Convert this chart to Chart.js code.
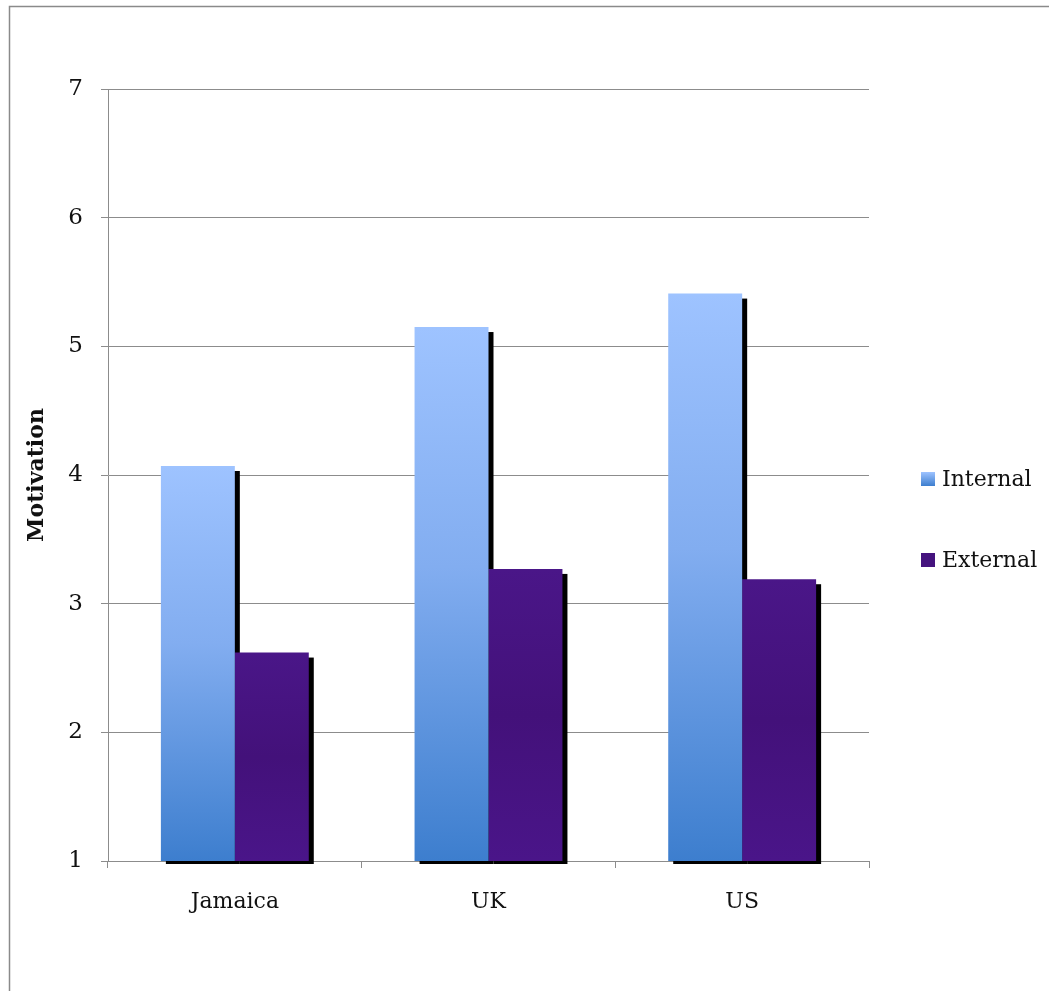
<!DOCTYPE html>
<html>
<head>
<meta charset="utf-8">
<script src="https://cdn.jsdelivr.net/npm/chart.js@4.4.0/dist/chart.umd.min.js"></script>
<style>
  html, body { margin: 0; padding: 0; background: #fff; }
  #wrap { width: 1049px; height: 991px; position: relative; }
</style>
</head>
<body>
<div id="wrap"><canvas id="myChart" width="1049" height="991"></canvas></div>
<script>
const categories = ['Jamaica', 'UK', 'US'];
const internalValues = [4.07, 5.15, 5.41];
const externalValues = [2.62, 3.27, 3.19];
const seriesNames = ['Internal', 'External'];
const yMin = 1;
const yMax = 7;

const serif = '"DejaVu Serif", serif';
const gridGray = '#8c8c8c';

// vertical gradient over each bar, from its top down to the axis floor
function barGradient(context, values, stops, fallback) {
    const chart = context.chart;
    const y = chart.scales.y;
    if (!chart.chartArea || !y || context.dataIndex === undefined) return fallback;
    const top = y.getPixelForValue(values[context.dataIndex]);
    const bottom = y.getPixelForValue(yMin);
    if (!isFinite(top) || !isFinite(bottom) || top === bottom) return fallback;
    const g = chart.ctx.createLinearGradient(0, top, 0, bottom);
    stops.forEach(s => g.addColorStop(s[0], s[1]));
    return g;
}

const internalStops = [[0, '#9ec3ff'], [0.45, '#82adf0'], [1, '#3d7ece']];
const externalStops = [[0, '#4a1688'], [0.5, '#43117a'], [1, '#4a1589']];

const ctx = document.getElementById('myChart').getContext('2d');

const data = {
    labels: categories,
    datasets: [{
        label: seriesNames[0],
        data: internalValues,
        backgroundColor: c => barGradient(c, internalValues, internalStops, '#7aa8ee'),
        borderWidth: 0
    }, {
        label: seriesNames[1],
        data: externalValues,
        backgroundColor: c => barGradient(c, externalValues, externalStops, '#48147f'),
        borderWidth: 0
    }]
};

const config = {
    type: 'bar',
    data: data,
    options: {
        responsive: false,
        animation: false,
        layout: {
            padding: { left: 10, right: 180, top: 89, bottom: 0 }
        },
        categoryPercentage: 0.583,
        barPercentage: 1,
        scales: {
            x: {
                grid: {
                    display: true,
                    drawOnChartArea: false,
                    drawTicks: true,
                    tickLength: 7,
                    color: gridGray,
                    offset: true
                },
                border: { display: true, color: gridGray },
                ticks: {
                    color: '#111',
                    padding: 21,
                    font: { family: serif, size: 22 }
                },
                afterFit(scale) { scale.height = 130; }
            },
            y: {
                min: yMin,
                max: yMax,
                ticks: {
                    stepSize: 1,
                    color: '#111',
                    padding: 18,
                    font: { family: serif, size: 23 }
                },
                grid: {
                    color: gridGray,
                    tickLength: 7,
                    drawTicks: true
                },
                border: { display: true, color: gridGray },
                title: {
                    display: true,
                    text: 'Motivation',
                    color: '#111',
                    padding: { top: 14, bottom: 0 },
                    font: { family: serif, size: 22, weight: 'bold' }
                },
                afterFit(scale) { scale.width = 98; }
            }
        },
        plugins: {
            legend: { display: false },
            tooltip: { enabled: false }
        }
    },
    plugins: [{
        id: 'frame',
        beforeDraw(chart) {
            const c = chart.ctx;
            c.save();
            c.strokeStyle = '#8a8a8a';
            c.lineWidth = 1.5;
            c.beginPath();
            c.moveTo(9.5, chart.height);
            c.lineTo(9.5, 6.5);
            c.lineTo(chart.width, 6.5);
            c.stroke();
            c.restore();
        }
    }, {
        id: 'barShadow',
        beforeDatasetsDraw(chart) {
            const c = chart.ctx;
            // bars start at 0, below the axis floor, so stop the shadow at the floor
            const floor = chart.chartArea.bottom;
            c.save();
            c.fillStyle = '#000';
            chart.data.datasets.forEach((ds, i) => {
                chart.getDatasetMeta(i).data.forEach(el => {
                    const { x, y, width } = el;
                    c.fillRect(x - width / 2 + 5, y + 5, width, floor + 3 - (y + 5));
                });
            });
            c.restore();
        }
    }, {
        id: 'sideLegend',
        afterDraw(chart) {
            const c = chart.ctx;
            const area = chart.chartArea;
            const boxX = area.right + 52;
            const rows = [area.top + 390, area.top + 471];
            c.save();
            c.font = '22px ' + serif;
            c.textBaseline = 'middle';
            chart.data.datasets.forEach((ds, i) => {
                const cy = rows[i];
                let fill;
                if (i === 0) {
                    fill = c.createLinearGradient(0, cy - 7, 0, cy + 7);
                    fill.addColorStop(0, '#9ec3ff');
                    fill.addColorStop(1, '#3d7ece');
                } else {
                    fill = '#45137e';
                }
                c.fillStyle = fill;
                c.fillRect(boxX, cy - 7, 14, 14);
                c.fillStyle = '#111';
                c.fillText(ds.label, boxX + 21, cy + 1);
            });
            c.restore();
        }
    }]
};

const myChart = new Chart(ctx, config);
</script>
</body>
</html>
